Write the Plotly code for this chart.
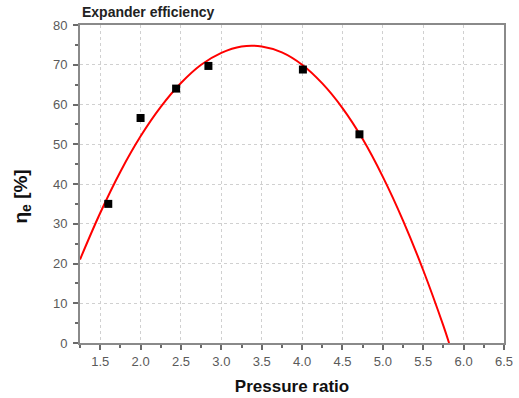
import plotly.graph_objects as go

# Measured data points
pr_points = [1.6, 2.0, 2.44, 2.84, 4.01, 4.71]
eff_points = [35.0, 56.6, 64.0, 69.7, 68.8, 52.5]

# Fitted curve
pr_curve = [1.25, 1.5, 1.75, 2.0, 2.25, 2.5, 2.75, 3.0, 3.25, 3.5, 3.75,
            4.0, 4.25, 4.5, 4.75, 5.0, 5.25, 5.5, 5.75, 5.82]
eff_curve = [21.0, 32.7, 43.1, 52.0, 59.4, 65.4, 70.0, 73.0, 74.6, 74.6, 73.1,
             70.0, 65.3, 59.1, 51.3, 41.8, 30.8, 18.3, 4.3, 0.0]

x_ticks = [1.5, 2.0, 2.5, 3.0, 3.5, 4.0, 4.5, 5.0, 5.5, 6.0, 6.5]
y_ticks = [0, 10, 20, 30, 40, 50, 60, 70, 80]

fig = go.Figure()
fig.add_trace(go.Scatter(
    x=pr_curve, y=eff_curve, mode="lines",
    line=dict(color="#ff0000", width=2, shape="spline", smoothing=1.0),
    hoverinfo="skip", showlegend=False))
fig.add_trace(go.Scatter(
    x=pr_points, y=eff_points, mode="markers",
    marker=dict(symbol="square", size=8, color="black"),
    showlegend=False))

axis_common = dict(
    showline=True, linecolor="#8a8a8a", linewidth=2, mirror=True,
    ticks="outside", ticklen=5, tickwidth=1.5, tickcolor="#6a6a6a",
    showgrid=True, gridcolor="#d0d0d0", griddash="dot", gridwidth=1,
    zeroline=False, automargin=False,
    tickfont=dict(family="Liberation Sans, Arial", size=13, color="#5a5a5a"),
    minor=dict(ticks="outside", ticklen=3, tickcolor="#6a6a6a", showgrid=False),
)

fig.update_xaxes(
    range=[1.25, 6.5], tickvals=x_ticks,
    ticktext=[f"{v:.1f}" for v in x_ticks],
    minor_dtick=0.25, ticklabelstandoff=0,
    title=dict(text="<b>Pressure ratio</b>",
               font=dict(family="Liberation Sans, Arial", size=17, color="#111111"),
               standoff=13),
    **axis_common)
fig.update_yaxes(
    range=[0, 80], tickvals=y_ticks, minor_dtick=5,
    ticklabelstandoff=3,
    **axis_common)

fig.add_annotation(
    text="<b>η<sub><span style='font-size:14px'>e</span></sub> [%]</b>",
    textangle=-90,
    xref="paper", yref="paper",
    x=-58/424, y=(342 - 196)/317, xanchor="center", yanchor="middle",
    showarrow=False,
    font=dict(family="Liberation Sans, Arial", size=19, color="#111111"))

fig.update_layout(
    width=519, height=398,
    margin=dict(l=80, r=15, t=25, b=55),
    plot_bgcolor="white", paper_bgcolor="white",
    title=dict(text="<b>Expander efficiency</b>", x=82/519, xanchor="left",
               y=1 - 12/398, yanchor="middle",
               font=dict(family="Liberation Sans, Arial", size=14, color="#222222")),
)

fig.write_html("out.html")
